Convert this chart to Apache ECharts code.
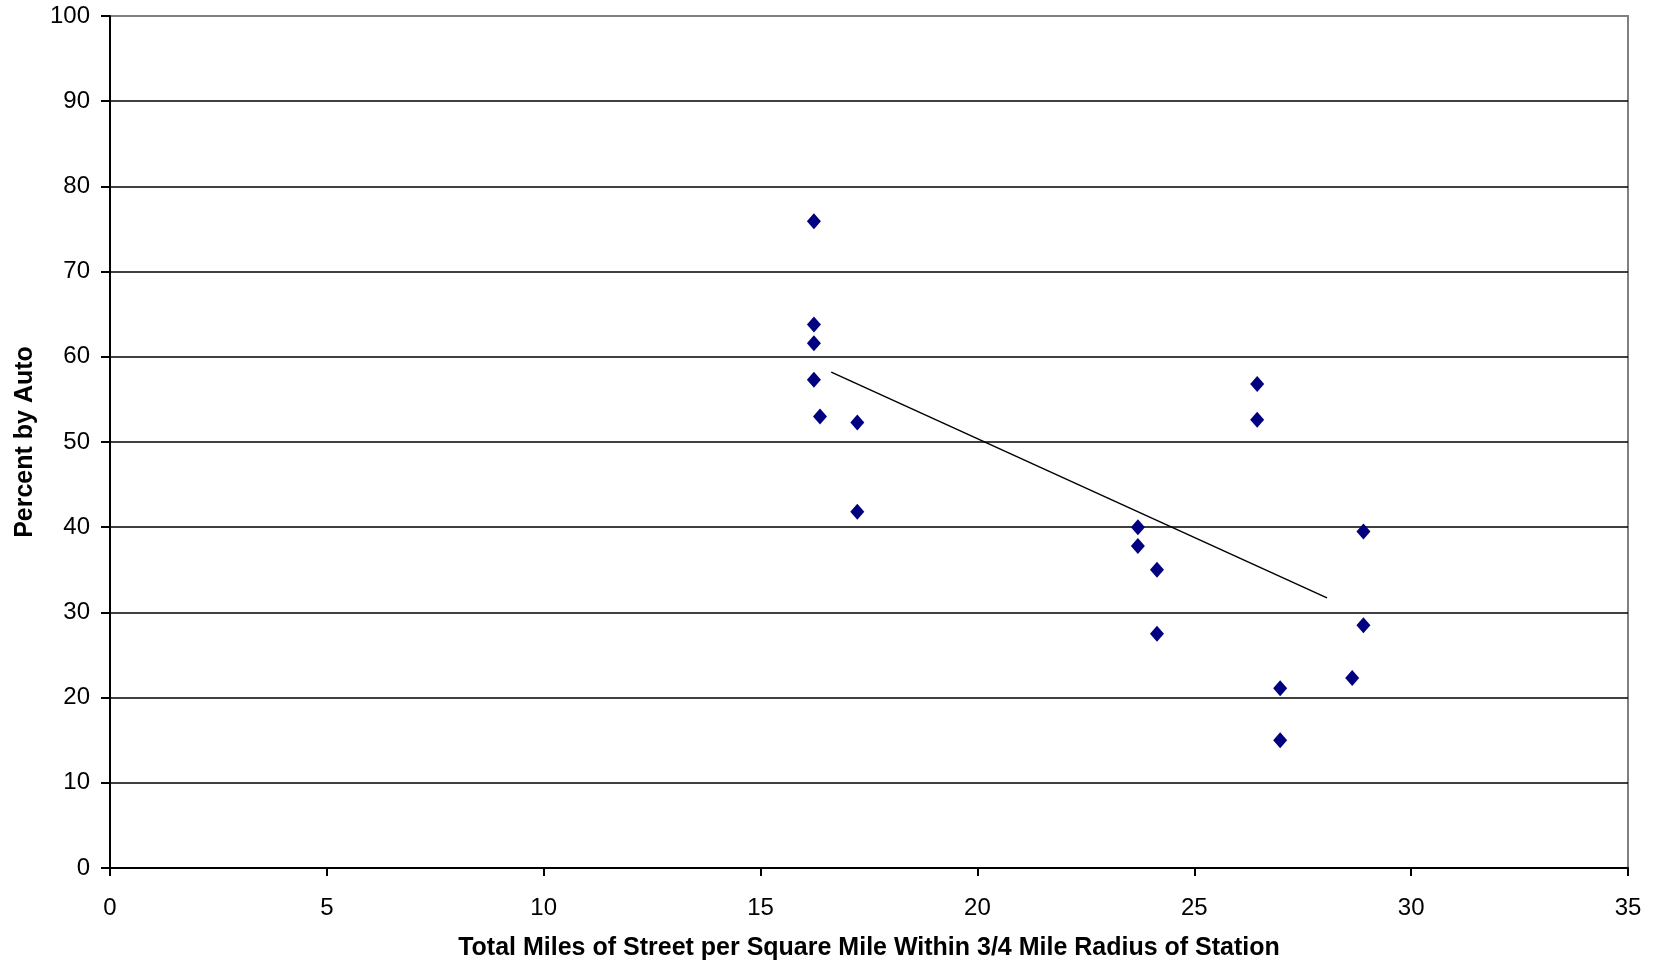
<!DOCTYPE html>
<html>
<head>
<meta charset="utf-8">
<script src="https://cdn.jsdelivr.net/npm/echarts@6/dist/echarts.min.js"></script>
<style>
  html, body { margin: 0; padding: 0; background: #fff; }
  #chart { width: 1656px; height: 962px; }
</style>
</head>
<body>
<div id="chart"></div>
<script>
// Street density (miles of street per sq mile) vs. percent by auto
const streetMiles = [16.23, 16.23, 16.23, 16.23, 16.37, 17.23, 17.23, 23.70, 23.70, 24.14, 24.14, 26.45, 26.45, 26.98, 26.98, 28.64, 28.90, 28.90];
const percentAuto = [75.9, 63.8, 61.6, 57.3, 53.0, 52.3, 41.8, 40.0, 37.8, 35.0, 27.5, 56.8, 52.6, 21.1, 15.0, 22.3, 39.5, 28.5];
// trend line end points
const trendX = [16.63, 28.06];
const trendY = [58.2, 31.7];
const xTicks = { min: 0, max: 35, interval: 5 };
const yTicks = { min: 0, max: 100, interval: 10 };
const xTitle = 'Total Miles of Street per Square Mile Within 3/4 Mile Radius of Station';
const yTitle = 'Percent by Auto';

const points = streetMiles.map((x, i) => [x, percentAuto[i]]);
const trend = trendX.map((x, i) => [x, trendY[i]]);

const font = '"Liberation Sans", Arial, sans-serif';
const chart = echarts.init(document.getElementById('chart'), null, { renderer: 'canvas' });
chart.setOption({
  backgroundColor: '#ffffff',
  animation: false,
  grid: {
    left: 110, right: 28, top: 16, bottom: 94,
    containLabel: false, outerBoundsMode: 'none',
    show: true, borderColor: '#808080', borderWidth: 2, backgroundColor: '#ffffff'
  },
  xAxis: {
    type: 'value', min: xTicks.min, max: xTicks.max, interval: xTicks.interval,
    name: xTitle, nameLocation: 'middle', nameGap: 68,
    nameTextStyle: { fontFamily: font, fontSize: 25, fontWeight: 'bold', color: '#000' },
    axisLine: { show: true, onZero: false, lineStyle: { color: '#000', width: 2 } },
    axisTick: { show: true, length: 8, inside: false, lineStyle: { color: '#000', width: 2 } },
    axisLabel: { fontFamily: font, fontSize: 24, color: '#000', margin: 28 },
    splitLine: { show: false }
  },
  yAxis: {
    type: 'value', min: yTicks.min, max: yTicks.max, interval: yTicks.interval,
    name: yTitle, nameLocation: 'middle', nameGap: 72, nameRotate: 90,
    nameTextStyle: { fontFamily: font, fontSize: 25, fontWeight: 'bold', color: '#000' },
    axisLine: { show: true, onZero: false, lineStyle: { color: '#000', width: 2 } },
    axisTick: { show: true, length: 9, inside: false, lineStyle: { color: '#000', width: 2 } },
    axisLabel: { fontFamily: font, fontSize: 24, color: '#000', margin: 20 },
    splitLine: { show: true, showMinLine: false, showMaxLine: false, lineStyle: { color: '#000', width: 1.5 } }
  },
  series: [
    {
      type: 'line', data: trend, symbol: 'none', silent: true,
      lineStyle: { color: '#000', width: 1.5 }, z: 2
    },
    {
      type: 'scatter', data: points, symbol: 'diamond', symbolSize: [14, 16],
      itemStyle: { color: '#000080', opacity: 1 }, z: 3
    }
  ]
});
</script>
</body>
</html>
